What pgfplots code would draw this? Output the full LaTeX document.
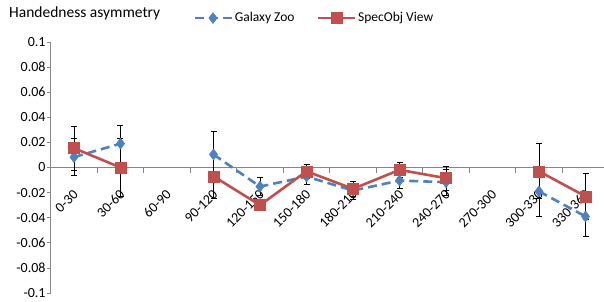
\documentclass[border=0pt]{standalone}
\usepackage{pgfplots}
\pgfplotsset{compat=1.18}
\usepackage{pgfplotstable}
\usepackage{fontspec}
\setmainfont{Carlito}
\definecolor{gzblue}{RGB}{79,129,189}
\definecolor{sored}{RGB}{192,80,77}
\definecolor{axgray}{RGB}{134,134,134}
\pgfplotstableread{
x gz gzerr so soerr
0 0.0083 0.0147 0.0154 0.0176
1 0.0190 0.0146 0.0000 0.0230
2 nan nan nan nan
3 0.0104 0.0186 -0.0070 0.0180
4 -0.0152 0.0070 -0.0300 0.0045
5 -0.0072 0.0060 -0.0030 0.0055
6 -0.0184 0.0072 -0.0170 0.0063
7 -0.0104 0.0060 -0.0019 0.0062
8 -0.0117 0.0102 -0.0085 0.0095
9 nan nan nan nan
10 -0.0190 0.0197 -0.0030 0.0220
11 -0.0390 0.0160 -0.0230 0.0180
}\datatab
\begin{document}
\begin{tikzpicture}
\useasboundingbox (0,0) rectangle (604pt,301pt);
\node[anchor=west, font=\fontsize{15.5}{17}\selectfont, inner sep=0pt] at (9pt,288pt) {Handedness asymmetry};
\begin{axis}[
  at={(50.75pt,8pt)}, anchor=south west,
  scale only axis, width=553.25pt, height=251pt,
  xmin=-0.5, xmax=11.398, ymin=-0.1, ymax=0.1,
  axis y line*=left, axis x line*=middle,
  axis line style={draw=axgray, line width=0.8pt},
  hide obscured x ticks=false, hide obscured y ticks=false,
  tick align=outside,
  ytick={-0.1,-0.08,...,0.1},
  scaled y ticks=false,
  yticklabel style={font=\fontsize{14}{16}\selectfont, /pgf/number format/fixed, /pgf/number format/precision=2, /pgf/number format/assume math mode=true, inner xsep=1pt},
  y tick style={draw=axgray, line width=0.8pt},
  major tick length=4pt,
  xtick={0,...,11},
  xticklabels={0-30,30-60,60-90,90-120,120-150,150-180,180-210,210-240,240-270,270-300,300-330,330-360},
  major x tick style={draw=none},
  minor xtick={0.5,1.5,...,10.5},
  minor x tick style={draw=axgray, line width=0.8pt},
  minor tick length=5pt,
  x tick label style={xshift=2.5pt, yshift=-20pt, rotate=45, anchor=east, font=\fontsize{14}{16}\selectfont, inner sep=1pt},
  unbounded coords=jump,
  legend columns=2,
  legend style={at={(0.2517,1.0956)}, anchor=west, draw=none, fill=none, font=\fontsize{13.5}{15}\selectfont, /tikz/every even column/.append style={column sep=20pt}},
  legend image code/.code={\draw[mark repeat=2,mark phase=2] plot coordinates {(0pt,0pt) (18.5pt,0pt) (37pt,0pt)};},
  clip=false,
]
\addplot[gzblue, line width=2.6pt, dash pattern=on 9pt off 5pt, mark=diamond*, mark size=5.5pt, mark options={solid, fill=gzblue, draw=gzblue, line width=0.5pt},
  error bars/.cd, y dir=both, y explicit, error bar style={black, line width=0.8pt, solid}, error mark options={black, line width=0.8pt, mark size=3pt, solid, rotate=90}]
  table[x=x, y=gz, y error=gzerr]{\datatab};
\addlegendentry{Galaxy Zoo}
\addplot[sored, line width=2.6pt, mark=square*, mark size=5.5pt, mark options={fill=sored, draw=sored, line width=0.5pt},
  error bars/.cd, y dir=both, y explicit, error bar style={black, line width=0.8pt}, error mark options={black, line width=0.8pt, mark size=3pt, rotate=90}]
  table[x=x, y=so, y error=soerr]{\datatab};
\addlegendentry{SpecObj View}
\end{axis}
\end{tikzpicture}
\end{document}
